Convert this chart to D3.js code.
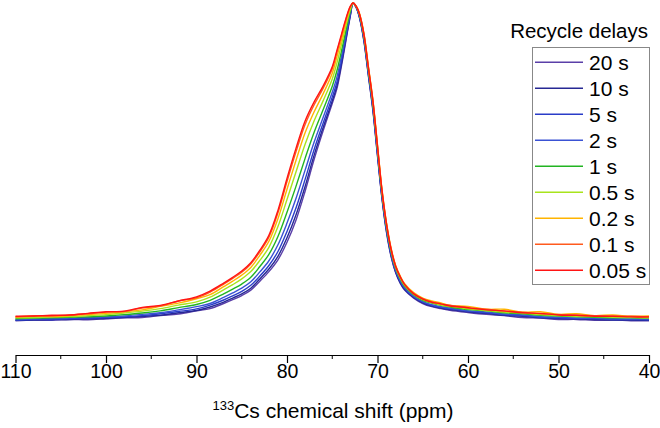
<!DOCTYPE html>
<html>
<head>
<meta charset="utf-8">
<script src="https://cdn.jsdelivr.net/npm/d3@7"></script>
<style>
  html, body { margin: 0; padding: 0; background: #fff; }
  svg { display: block; font-family: "Liberation Sans", Arial, Helvetica, sans-serif; }
</style>
</head>
<body>
<svg id="chart" width="660" height="428"></svg>
<script>
// chemical shift grid (ppm)
const ppm = [110,108,106,104,102,100,98,96,94,92,90,88.5,87,86,85,84,83,82,81,80,79,78,77,76,75,74.5,74,73.5,73,72.7,
             72.3,72,71.5,71,70.5,70,69.5,69,68.5,68,67.5,67,66,65,64,63,62,60,58,56,54,52,50,48,46,44,42,40];

// normalised intensities per recycle delay
const s20  = [.004,.006,.005,.008,.007,.010,.013,.014,.020,.025,.035,.042,.058,.070,.083,.100,.128,.158,.195,.250,.320,.410,.510,.600,.685,.730,.800,.880,.960,1.0,
              .982,.955,.880,.770,.660,.520,.385,.280,.205,.155,.122,.100,.075,.058,.048,.042,.037,.030,.024,.020,.014,.012,.008,.008,.005,.006,.004,.004];
const s10  = [.005,.006,.008,.008,.010,.011,.014,.018,.021,.029,.036,.047,.062,.075,.088,.106,.135,.166,.206,.264,.336,.425,.523,.610,.693,.738,.807,.885,.962,1.0,
              .983,.956,.883,.773,.664,.524,.388,.283,.208,.157,.124,.102,.077,.060,.050,.044,.039,.032,.027,.021,.018,.013,.011,.009,.008,.006,.006,.005];
const s5   = [.006,.008,.007,.010,.011,.014,.016,.020,.026,.033,.041,.053,.069,.082,.096,.115,.144,.177,.221,.284,.358,.447,.541,.624,.705,.750,.817,.892,.965,1.0,
              .984,.958,.886,.778,.669,.529,.393,.288,.212,.161,.128,.105,.079,.062,.052,.046,.041,.034,.029,.023,.020,.015,.013,.011,.010,.008,.008,.007];
const s2   = [.008,.009,.011,.012,.014,.016,.019,.024,.029,.038,.048,.058,.077,.091,.106,.126,.157,.192,.242,.310,.388,.476,.564,.642,.720,.766,.830,.901,.969,1.0,
              .984,.960,.889,.781,.672,.532,.396,.291,.214,.163,.130,.107,.080,.064,.054,.048,.043,.035,.031,.025,.022,.017,.015,.012,.012,.010,.009,.009];
const s1   = [.010,.012,.013,.015,.016,.019,.023,.028,.035,.045,.055,.068,.088,.103,.119,.140,.174,.212,.268,.344,.426,.513,.595,.666,.739,.786,.847,.913,.974,1.0,
              .986,.963,.895,.788,.681,.541,.403,.298,.221,.169,.136,.112,.085,.068,.059,.052,.047,.039,.035,.029,.026,.021,.019,.016,.015,.013,.013,.012];
const s05  = [.013,.014,.016,.017,.020,.023,.028,.034,.042,.053,.063,.078,.101,.117,.135,.158,.193,.234,.299,.384,.471,.557,.631,.694,.762,.810,.867,.927,.980,1.0,
              .986,.964,.898,.791,.685,.545,.406,.301,.224,.171,.138,.114,.087,.070,.061,.053,.049,.041,.036,.031,.028,.023,.020,.018,.017,.015,.015,.013];
const s02  = [.015,.018,.017,.020,.023,.027,.032,.038,.049,.059,.073,.086,.111,.128,.147,.171,.209,.253,.324,.416,.507,.593,.659,.716,.780,.830,.883,.938,.985,1.0,
              .988,.968,.905,.800,.695,.555,.415,.310,.232,.178,.145,.120,.092,.075,.066,.060,.052,.049,.040,.040,.031,.032,.024,.026,.020,.022,.018,.019];
const s01  = [.016,.019,.019,.022,.026,.031,.033,.044,.050,.066,.076,.094,.119,.137,.156,.182,.220,.266,.342,.440,.534,.619,.681,.733,.794,.844,.895,.947,.989,1.0,
              .987,.967,.903,.797,.692,.552,.412,.307,.229,.176,.143,.118,.089,.073,.063,.056,.053,.044,.040,.034,.031,.026,.024,.021,.020,.018,.018,.016];
const s005 = [.018,.019,.021,.022,.027,.032,.034,.046,.052,.066,.079,.097,.122,.140,.160,.186,.225,.272,.350,.450,.545,.630,.690,.740,.800,.850,.900,.950,.990,1.0,
              .987,.966,.901,.796,.690,.550,.411,.306,.228,.175,.142,.117,.088,.072,.062,.057,.050,.045,.038,.035,.029,.027,.022,.021,.018,.018,.016,.016];

const seriesNames  = ["20 s","10 s","5 s","2 s","1 s","0.5 s","0.2 s","0.1 s","0.05 s"];
const seriesValues = [s20, s10, s5, s2, s1, s05, s02, s01, s005];
const seriesColors = ["#5a3fa8","#262894","#2a3cc8","#3a52d4","#22b422","#a8e41c","#ffb400","#ff5a1e","#ff1414"];

const majorTicks = [110,100,90,80,70,60,50,40];
const minorTicks = [105,95,85,75,65,55,45];
const legendTitle = "Recycle delays";

const svg = d3.select("#chart");
const x = d3.scaleLinear().domain([110, 40]).range([15.5, 649]);
const y = d3.scaleLinear().domain([0, 1]).range([322, 3]);
const axisY = 355;

// spectra
const line = d3.line()
  .x((d, i) => x(ppm[i]))
  .y(d => y(d))
  .curve(d3.curveCatmullRom.alpha(0.5));

svg.append("g").selectAll("path")
  .data(seriesValues)
  .join("path")
  .attr("d", d => line(d))
  .attr("fill", "none")
  .attr("stroke", (d, i) => seriesColors[i])
  .attr("stroke-width", 1.4)
  .attr("stroke-linejoin", "round");

// x axis
const gx = svg.append("g").attr("transform", `translate(0,${axisY})`);
gx.call(d3.axisBottom(x).tickValues(majorTicks).tickSize(8).tickSizeOuter(0).tickFormat(d3.format("d")));
gx.append("g").selectAll("line")
  .data(minorTicks).join("line")
  .attr("x1", d => x(d)).attr("x2", d => x(d))
  .attr("y1", 0).attr("y2", 4)
  .attr("stroke", "#000");
gx.select(".domain").attr("stroke", "#000").attr("stroke-width", 1.2);
gx.selectAll(".tick line").attr("stroke", "#000").attr("stroke-width", 1.2);
gx.selectAll(".tick text")
  .attr("font-size", "19.5px")
  .attr("font-family", "'Liberation Sans', Arial, sans-serif")
  .attr("fill", "#000")
  .attr("dy", "0")
  .attr("y", 22.5);

// axis title
const title = svg.append("text")
  .attr("x", 333).attr("y", 418)
  .attr("text-anchor", "middle")
  .attr("font-size", "21px")
  .attr("fill", "#000");
title.append("tspan").attr("font-size", "13px").attr("dy", "-8").text("133");
title.append("tspan").attr("dy", "8").text("Cs chemical shift (ppm)");

// legend
svg.append("text")
  .attr("x", 648).attr("y", 37.5)
  .attr("text-anchor", "end")
  .attr("font-size", "20.5px")
  .attr("fill", "#000")
  .text(legendTitle);

svg.append("rect")
  .attr("x", 532.5).attr("y", 47.5)
  .attr("width", 117).attr("height", 237)
  .attr("fill", "#fff")
  .attr("stroke", "#888")
  .attr("stroke-width", 1);

const leg = svg.append("g").selectAll("g")
  .data(seriesNames).join("g")
  .attr("transform", (d, i) => `translate(0,${62.3 + i * 26})`);
leg.append("line")
  .attr("x1", 535).attr("x2", 583)
  .attr("y1", 0).attr("y2", 0)
  .attr("stroke", (d, i) => seriesColors[i])
  .attr("stroke-width", 1.4);
leg.append("text")
  .attr("x", 589).attr("y", 7.5)
  .attr("font-size", "21px")
  .attr("fill", "#000")
  .text(d => d);
</script>
</body>
</html>
